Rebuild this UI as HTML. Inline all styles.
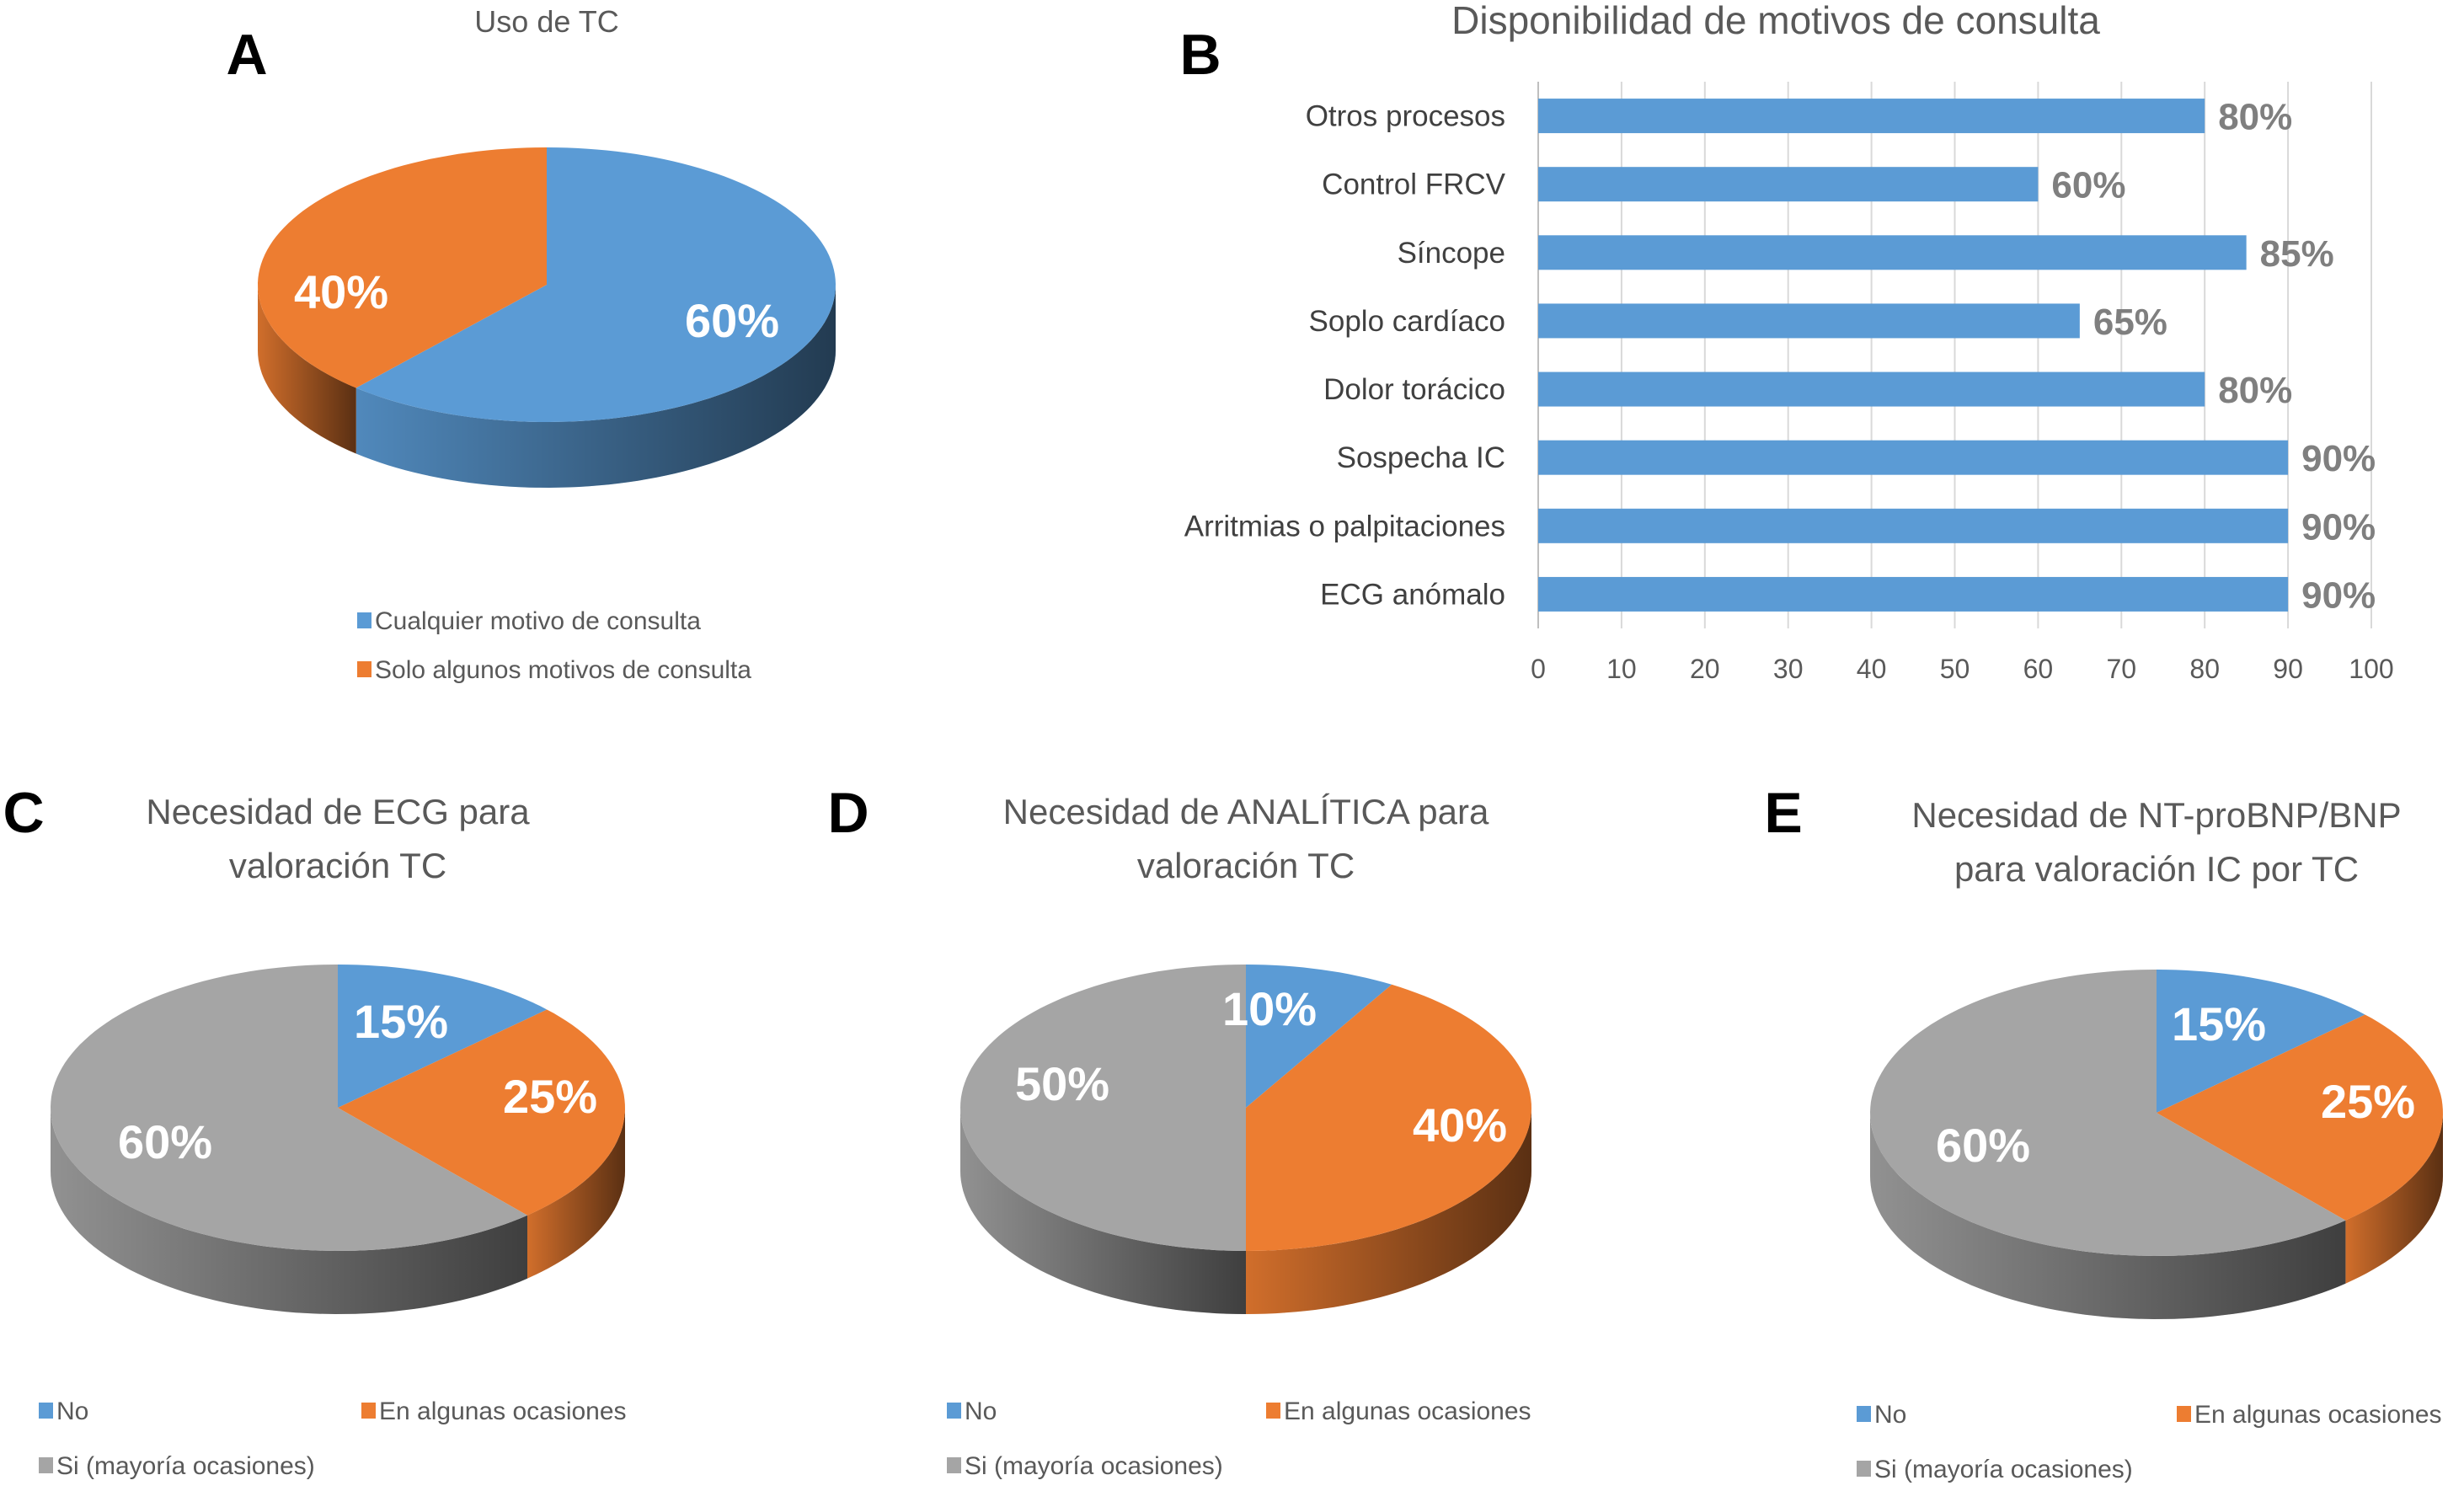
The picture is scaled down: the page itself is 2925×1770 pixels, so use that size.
<!DOCTYPE html>
<html><head><meta charset="utf-8"><style>
html,body{margin:0;padding:0;background:#fff;}
svg{display:block;font-family:"Liberation Sans",sans-serif;}
</style></head><body>
<svg id="s" width="2925" height="1770" viewBox="0 0 2925 1770" xmlns="http://www.w3.org/2000/svg">
<defs>
<linearGradient id="shade" x1="0" y1="0" x2="1" y2="0">
<stop offset="0" stop-color="#000" stop-opacity="0.12"/>
<stop offset="1" stop-color="#000" stop-opacity="0.62"/>
</linearGradient>
</defs>
<text x="293" y="88" font-size="68" font-weight="bold" text-anchor="middle">A</text>
<text x="1425" y="88" font-size="68" font-weight="bold" text-anchor="middle">B</text>
<text x="28" y="988" font-size="68" font-weight="bold" text-anchor="middle">C</text>
<text x="1007" y="988" font-size="68" font-weight="bold" text-anchor="middle">D</text>
<text x="2117" y="988" font-size="68" font-weight="bold" text-anchor="middle">E</text>

<text x="649" y="38" font-size="36" fill="#595959" text-anchor="middle">Uso de TC</text>
<text x="2108" y="40" font-size="46" fill="#595959" text-anchor="middle">Disponibilidad de motivos de consulta</text>
<g font-size="42" fill="#595959" text-anchor="middle">
<text x="401" y="978">Necesidad de ECG para</text><text x="401" y="1042">valoración TC</text></g>
<g font-size="42" fill="#595959" text-anchor="middle">
<text x="1479" y="978">Necesidad de ANALÍTICA para</text><text x="1479" y="1042">valoración TC</text></g>
<g font-size="42" fill="#595959" text-anchor="middle">
<text x="2560" y="982">Necesidad de NT-proBNP/BNP</text><text x="2560" y="1046">para valoración IC por TC</text></g>

<g id="bars"></g>
<g id="pies"></g>
<g id="legends"></g>
</svg>
<script>
const barCategories = ["Otros procesos","Control FRCV","Síncope","Soplo cardíaco","Dolor torácico","Sospecha IC","Arritmias o palpitaciones","ECG anómalo"];
const barValues = [80,60,85,65,80,90,90,90];
const xTicks = [0,10,20,30,40,50,60,70,80,90,100];

const pieALabels = ["Cualquier motivo de consulta","Solo algunos motivos de consulta"];
const pieAValues = [60,40];
const pieCValues = [15,25,60];
const pieDValues = [10,40,50];
const pieEValues = [15,25,60];
const pieCDELabels = ["No","En algunas ocasiones","Si (mayoría ocasiones)"];

const NS="http://www.w3.org/2000/svg";
function mk(tag, attrs, parent, txt){const e=document.createElementNS(NS,tag);for(const k in attrs)e.setAttribute(k,attrs[k]);if(txt!==undefined)e.textContent=txt;parent.appendChild(e);return e;}

// Bar chart
const bars=document.getElementById('bars');
const x0=1826,x1=2815,yTop=97,yBot=746;
const xs=v=>x0+(v/100)*(x1-x0);
const band=(yBot-yTop)/barCategories.length;
const yc=i=>yTop+band*(i+0.5);
xTicks.forEach(t=>{
  const g=mk('line',{x1:xs(t),x2:xs(t),y1:yTop,y2:yBot,stroke:t===0?'#bfbfbf':'#d9d9d9','stroke-width':2},bars);
  
  
  const l=mk('text',{x:xs(t),y:805,'font-size':32,fill:'#595959','text-anchor':'middle'},bars,String(t));
  
  
});
barCategories.forEach((c,i)=>{
  const y=yc(i);
  const r=mk('rect',{x:x0,y:y-20.5,width:xs(barValues[i])-x0,height:41,fill:'#5b9bd5'},bars);
  
  
  const l=mk('text',{x:1787,y:y+12,'font-size':35,fill:'#404040','text-anchor':'end'},bars,c);
  
  
  const v=mk('text',{x:xs(barValues[i])+16,y:y+16,'font-size':44,'font-weight':'bold',fill:'#7f7f7f'},bars,barValues[i]+'%');
  
  
});

// 3D pies
const colors=['#5b9bd5','#ed7d31','#a5a5a5'];
const pies=document.getElementById('pies');
function warp(t){return t-9*Math.sin(t*Math.PI/180);}
function pt(p,t,dy){const a=t*Math.PI/180;return [p.cx+p.rx*Math.sin(a),p.cy-p.ry*Math.cos(a)+(dy||0)];}
function arcPath(p,a,b,dy){let d='';const n=Math.max(2,Math.ceil(Math.abs(b-a)/2));for(let i=0;i<=n;i++){const t=a+(b-a)*i/n;const q=pt(p,t,dy);d+=(i? 'L':'M')+q[0].toFixed(1)+','+q[1].toFixed(1);}return d;}
function drawPie(p,vals,labelPos,name){
  const g=mk('g',{},pies);
  
  
  const tot=vals.reduce((s,v)=>s+v,0);
  let a=0;const segs=[];
  vals.forEach((v,i)=>{const b=a+v/tot*360;segs.push([warp(a),warp(b),i]);a=b;});
  segs.forEach(([s,e,i])=>{
    const a1=Math.max(s,90),b1=Math.min(e,270);
    if(b1>a1){
      const top=arcPath(p,a1,b1,0);
      const bot=arcPath(p,b1,a1,p.d).replace(/^M/,'L');
      const d=top+bot+'Z';
      const sd=mk('path',{d:d,fill:colors[i]},g);
      
      
      mk('path',{d:d,fill:'url(#shade)'},g);
    }
  });
  segs.forEach(([s,e,i])=>{
    const c=p.cx+','+p.cy;
    const d='M'+c+arcPath(p,s,e,0).replace(/^M/,'L')+'Z';
    const sl=mk('path',{d:d,fill:colors[i]},g);
    
    
  });
  segs.forEach(([s,e,i])=>{
    const lp=labelPos[i];
    const t=mk('text',{x:lp[0],y:lp[1],'font-size':56,'font-weight':'bold',fill:'#fff','text-anchor':'middle'},g,vals[i]+'%');
    
    
  });
}
drawPie({cx:649,cy:338,rx:343,ry:163,d:78},pieAValues,[[869,400],[405,366]],'pie-a');
drawPie({cx:401,cy:1315,rx:341,ry:170,d:75},pieCValues,[[476,1232],[653,1321],[196,1375]],'pie-c');
drawPie({cx:1479,cy:1315,rx:339,ry:170,d:75},pieDValues,[[1507,1217],[1733,1355],[1261,1306]],'pie-d');
drawPie({cx:2560,cy:1321,rx:340,ry:170,d:75},pieEValues,[[2634,1235],[2811,1327],[2354,1379]],'pie-e');

// legends
const lg=document.getElementById('legends');
function legend(x,y,color,label){
  const r=mk('rect',{x:x,y:y-12,width:17,height:19,fill:color},lg);
  
  
  const t=mk('text',{x:x+21,y:y+8,'font-size':30,fill:'#595959'},lg,label);
  
  
}
legend(424,739,colors[0],pieALabels[0]);
legend(424,797,colors[1],pieALabels[1]);
[[46,1677,429,1742],[1124,1677,1503,1742],[2204,1681,2584,1746]].forEach(([a,y1,b,y2])=>{
  legend(a,y1,colors[0],pieCDELabels[0]);
  legend(b,y1,colors[1],pieCDELabels[1]);
  legend(a,y2,colors[2],pieCDELabels[2]);
});
</script>
</body></html>
